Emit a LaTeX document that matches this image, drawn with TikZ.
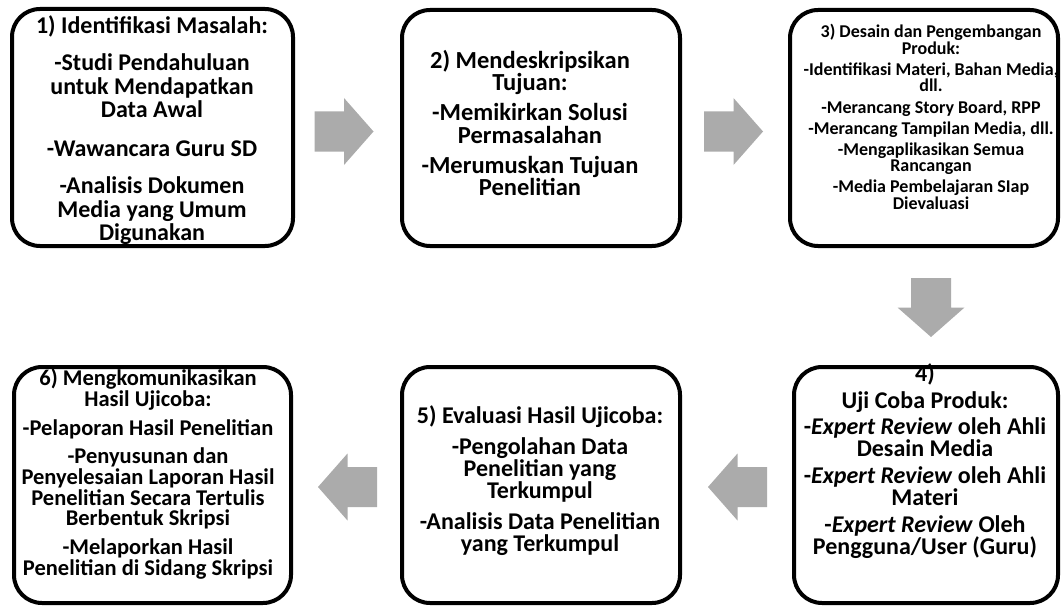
\documentclass[tikz,border=0pt]{standalone}
\usepackage{fontspec}
\setmainfont{Carlito}
\definecolor{arrowgray}{HTML}{ABABAB}
\tikzset{
  box/.style={draw=black, line width=4pt, rounded corners=28pt, fill=white, inner sep=0pt},
  txtbig/.style={align=center, inner sep=0pt, font=\bfseries\fontsize{24}{22}\selectfont},
  txtone/.style={align=center, inner sep=0pt, font=\bfseries\fontsize{24}{23.5}\selectfont},
  txttwo/.style={align=center, inner sep=0pt, font=\bfseries\fontsize{24.5}{22.5}\selectfont},
  txtmid/.style={align=center, inner sep=0pt, font=\bfseries\fontsize{22.5}{20.7}\selectfont},
  txtsmall/.style={align=center, inner sep=0pt, font=\bfseries\fontsize{18}{16.6}\selectfont},
  blockarrow/.pic={\fill[arrowgray] (-29.5,-20) -- (0,-20) -- (0,-33.5) -- (29.5,0) -- (0,33.5) -- (0,20) -- (-29.5,20) -- cycle;}
}
\begin{document}
\begin{tikzpicture}[x=1pt,y=-1pt]
\useasboundingbox (0,0) rectangle (1062,607);
% boxes
\node[box, minimum width=281pt, minimum height=237pt] (b1) at (152.5,127.5) {};
\node[box, minimum width=278pt, minimum height=236pt] (b2) at (541,128) {};
\node[box, minimum width=268pt, minimum height=236pt] (b3) at (924,128) {};
\node[box, minimum width=264pt, minimum height=236pt] (b4) at (926,485) {};
\node[box, minimum width=278pt, minimum height=236pt] (b5) at (541,485) {};
\node[box, minimum width=277pt, minimum height=236pt] (b6) at (152.5,485) {};
% texts
\node[txtone] (t1) at (152,130) {1) Identifikasi Masalah:\\[14pt]
-Studi Pendahuluan\\ untuk Mendapatkan\\ Data Awal\\[15pt]
-Wawancara Guru SD\\[14pt]
-Analisis Dokumen\\ Media yang Umum\\ Digunakan};
\node[txttwo] (t2) at (530,123) {2) Mendeskripsikan\\ Tujuan:\\[7.5pt]
-Memikirkan Solusi\\ Permasalahan\\[7.5pt]
-Merumuskan Tujuan\\ Penelitian};
\node[txtsmall] (t3) at (931,117) {3) Desain dan Pengembangan\\ Produk:\\[4.5pt]
-Identifikasi Materi, Bahan Media,\\ dll.\\[4.5pt]
-Merancang Story Board, RPP\\[4.5pt]
-Merancang Tampilan Media, dll.\\[4.5pt]
-Mengaplikasikan Semua\\ Rancangan\\[4.5pt]
-Media Pembelajaran SIap\\ Dievaluasi};
\node[txtbig] (t4) at (925,461) {4)\\[5pt]
Uji Coba Produk:\\[4pt]
-\textit{Expert Review} oleh Ahli\\ Desain Media\\[5pt]
-\textit{Expert Review} oleh Ahli\\ Materi\\[5pt]
-\textit{Expert Review} Oleh\\ Pengguna/User (Guru)};
\node[txtbig] (t5) at (540,481) {5) Evaluasi Hasil Ujicoba:\\[9pt]
-Pengolahan Data\\ Penelitian yang\\ Terkumpul\\[9pt]
-Analisis Data Penelitian\\ yang Terkumpul};
\node[txtmid] (t6) at (148,474) {6) Mengkomunikasikan\\ Hasil Ujicoba:\\[8pt]
-Pelaporan Hasil Penelitian\\[8pt]
-Penyusunan dan\\ Penyelesaian Laporan Hasil\\ Penelitian Secara Tertulis\\ Berbentuk Skripsi\\[8pt]
-Melaporkan Hasil\\ Penelitian di Sidang Skripsi};
% block arrows
\pic (a12) at (344,131.5) {blockarrow};
\pic (a23) at (733.5,131.5) {blockarrow};
\pic[rotate=-90] (a34) at (931,307.5) {blockarrow};
\pic[rotate=180] (a45) at (737.5,487) {blockarrow};
\pic[rotate=180] (a56) at (347.5,487) {blockarrow};
\end{tikzpicture}
\end{document}
